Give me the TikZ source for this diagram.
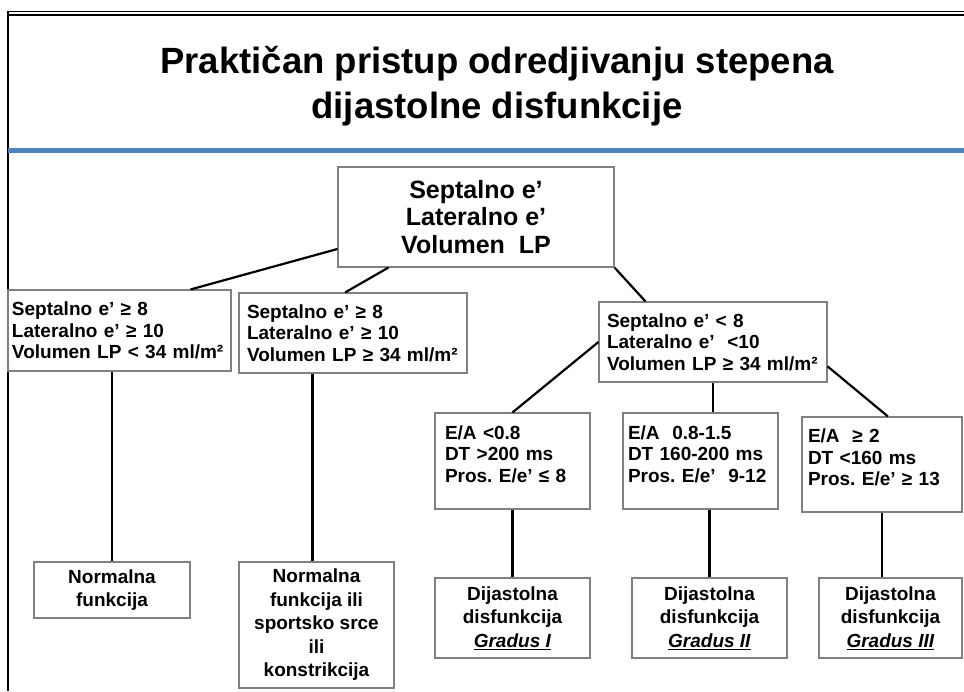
\documentclass[tikz,border=0pt]{standalone}
\usepackage{fontspec}
\setmainfont{Liberation Sans}
\frenchspacing
\definecolor{slideblue}{RGB}{79,129,189}
\definecolor{boxgray}{RGB}{128,128,128}

\begin{document}
\begin{tikzpicture}[x=1pt, y=-1pt,
        crit/.style={draw=boxgray, line width=1.1pt, align=left, inner ysep=0pt,
            font=\fontsize{19}{21.5}\selectfont\bfseries},
        result/.style={draw=boxgray, line width=1.1pt, align=center, inner xsep=0pt,
            font=\fontsize{19}{23.5}\selectfont\bfseries},
        rootbox/.style={draw=boxgray, line width=1.1pt, align=center,
            font=\fontsize{25}{27.5}\selectfont\bfseries},
        headline/.style={anchor=base, font=\fontsize{36.5}{45}\selectfont\bfseries},
        link/.style={line width=2.2pt}]
        \path[use as bounding box, fill=white] (0,0) rectangle (964,691);
        % Frame of the slide
        \draw[line width=1.2pt] (8,11.5) -- (964,11.5);
        \draw[line width=1.8pt] (8,15) -- (964,15);
        \draw[line width=1.5pt] (8,11) -- (8,691);
        \draw[slideblue, line width=5pt] (8,150) -- (964,150);
        % Title
        \node[headline] (title1) at (497,73) {Praktičan pristup odredjivanju stepena};
        \node[headline] (title2) at (497,118) {dijastolne disfunkcije};
        % First level
        \node[rootbox, minimum width=276pt, minimum height=100pt] (root) at (476,217)
            {Septalno e’\\Lateralno e’\\Volumen\ \ LP};
        % Second level
        \node[crit, text width=215pt, inner xsep=4pt, minimum height=81pt] (norm) at (119.5,330.5)
            {Septalno e’ ≥ 8\\Lateralno e’ ≥ 10\\Volumen LP < 34 ml/m²};
        \node[crit, text width=212pt, inner xsep=8pt, minimum height=80pt] (sport) at (353,333)
            {Septalno e’ ≥ 8\\Lateralno e’ ≥ 10\\Volumen LP ≥ 34 ml/m²};
        \node[crit, text width=212pt, inner xsep=8pt, minimum height=80pt] (disf) at (713,342)
            {Septalno e’ < 8\\Lateralno e’\ \ <10\\Volumen LP ≥ 34 ml/m²};
        % Third level
        \node[crit, text width=135pt, inner xsep=10pt, minimum height=96pt, text depth=57pt] (gr1) at (512.5,461)
            {E/A <0.8\\DT >200 ms\\Pros. E/e’ ≤ 8};
        \node[crit, text width=145pt, inner xsep=5pt, minimum height=96pt, text depth=57pt] (gr2) at (700.5,461)
            {E/A\ \ 0.8-1.5\\DT 160-200 ms\\Pros. E/e’\ \ 9-12};
        \node[crit, text width=148pt, inner xsep=6pt, minimum height=95pt, text depth=57pt] (gr3) at (882,464.5)
            {E/A\ \ ≥ 2\\DT <160 ms\\Pros. E/e’ ≥ 13};
        % Results
        \node[result, minimum width=156pt, minimum height=56pt] (resnorm) at (112,590)
            {Normalna\\funkcija};
        \node[result, minimum width=155pt, minimum height=126pt] (ressport) at (316.5,625)
            {Normalna\\funkcija ili\\sportsko srce\\ili\\konstrikcija};
        \node[result, minimum width=155pt, minimum height=80pt] (res1) at (512.5,618)
            {Dijastolna\\disfunkcija\\\underline{\textit{Gradus I}}};
        \node[result, minimum width=155pt, minimum height=80pt] (res2) at (709.5,618)
            {Dijastolna\\disfunkcija\\\underline{\textit{Gradus II}}};
        \node[result, minimum width=143pt, minimum height=80pt] (res3) at (890.5,618)
            {Dijastolna\\disfunkcija\\\underline{\textit{Gradus III}}};
        % Connectors
        \draw[link] (root.193) -- (norm.30);
        \draw[link] (root.210) -- (sport.101);
        \draw[link] (root.south east) -- (disf.149);
        \draw[link] (disf.west) -- (gr1.north);
        \draw[link] (disf.south) -- (disf.south |- gr2.north);
        \draw[link] (disf.-12) -- (gr3.83);
        \draw[link] (resnorm.north |- norm.south) -- (resnorm.north);
        \draw[link] ([xshift=-4pt]ressport.north |- sport.south) -- ([xshift=-4pt]ressport.north);
        \draw[link] (gr1.south) -- (res1.north);
        \draw[link] (res2.north |- gr2.south) -- (res2.north);
        \draw[link] (gr3.south) -- (gr3.south |- res3.north);
    \end{tikzpicture}
\end{document}
